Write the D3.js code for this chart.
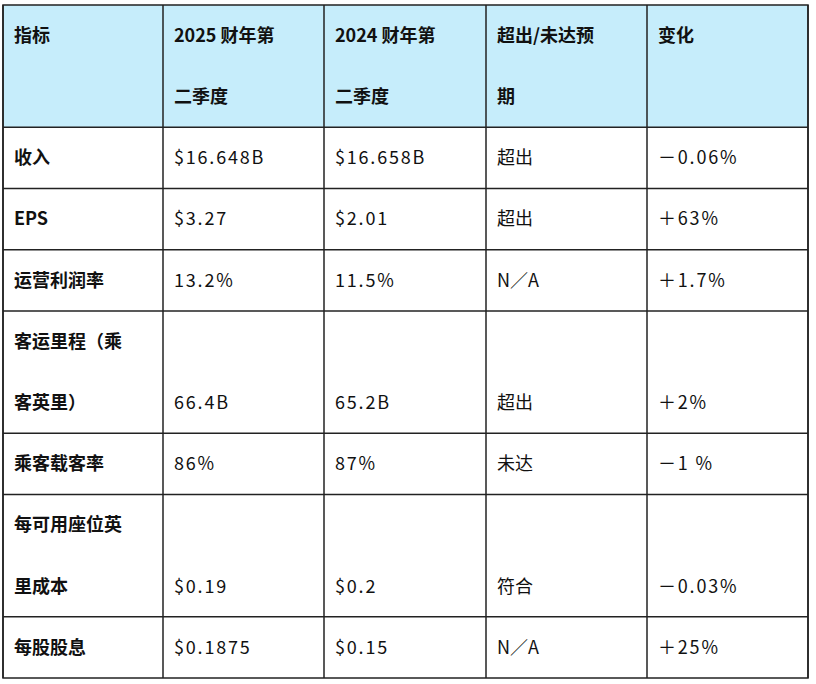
<!DOCTYPE html>
<html><head><meta charset="utf-8">
<script src="https://cdn.jsdelivr.net/npm/d3@7"></script>
<style>body{margin:0;background:#fff}</style>
</head><body>
<svg id="t" width="816" height="684"></svg>
<script>
// table content
const headers = [['指标'], ['2025 财年第', '二季度'], ['2024 财年第', '二季度'], ['超出/未达预', '期'], ['变化']];
const metrics = [['收入'], ['EPS'], ['运营利润率'], ['客运里程（乘', '客英里）'], ['乘客载客率'], ['每可用座位英', '里成本'], ['每股股息']];
const fy2025 = ['$16.648B', '$3.27', '13.2%', '66.4B', '86%', '$0.19', '$0.1875'];
const fy2024 = ['$16.658B', '$2.01', '11.5%', '65.2B', '87%', '$0.2', '$0.15'];
const beatMiss = ['超出', '超出', 'N／A', '超出', '未达', '符合', 'N／A'];
const change = ['－0.06%', '＋63%', '＋1.7%', '＋2%', '－1 %', '－0.03%', '＋25%'];

const svg = d3.select('#t');
const font = '"Noto Sans CJK SC", sans-serif';
const colEdges = [3, 163, 324, 486, 647, 808];

const rows = [{cells: headers, header: true}].concat(metrics.map((m, i) => ({
    cells: [m, [fy2025[i]], [fy2024[i]], [beatMiss[i]], [change[i]]], header: false
})));
rows.forEach(r => r.lines = d3.max(r.cells, c => c.length));

let acc = 0;
const tops = rows.map(r => { const t = acc; acc += r.lines; return t; });
const y = d3.scaleLinear().domain([0, acc]).range([5, 678]);

const g = svg.append('g');
rows.forEach((r, i) => {
    const y0 = y(tops[i]), y1 = y(tops[i] + r.lines);
    const unit = (y1 - y0) / r.lines;
    if (r.header) {
        g.append('rect').attr('x', colEdges[0]).attr('y', y0)
            .attr('width', colEdges[5] - colEdges[0]).attr('height', y1 - y0)
            .attr('fill', '#c6edfb');
    }
    r.cells.forEach((c, j) => {
        // single values in multi-line rows sit on the last line
        const offset = (!r.header && c.length < r.lines) ? r.lines - c.length : 0;
        const isValue = !r.header && j > 0;
        c.forEach((txt, k) => {
            g.append('text')
                .attr('x', colEdges[j] + 11)
                .attr('y', y0 + unit * (k + offset + 0.5))
                .attr('dy', '0.35em')
                .attr('font-family', font)
                .attr('font-size', 18)
                .attr('font-weight', (r.header || j === 0) ? 700 : 400)
                .attr('letter-spacing', isValue && /[0-9]/.test(txt) ? 1.8 : 0)
                .attr('fill', '#111')
                .text(txt);
        });
    });
    if (i > 0) g.append('line').attr('x1', colEdges[0]).attr('x2', colEdges[5])
        .attr('y1', y0).attr('y2', y0).attr('stroke', '#222').attr('stroke-width', 1.5);
});
colEdges.forEach(x => g.append('line').attr('x1', x).attr('x2', x)
    .attr('y1', y(0)).attr('y2', y(acc)).attr('stroke', '#222').attr('stroke-width', 1.5));
g.append('rect').attr('x', colEdges[0]).attr('y', y(0))
    .attr('width', colEdges[5] - colEdges[0]).attr('height', y(acc) - y(0))
    .attr('fill', 'none').attr('stroke', '#222').attr('stroke-width', 1.5);
</script>
</body></html>
